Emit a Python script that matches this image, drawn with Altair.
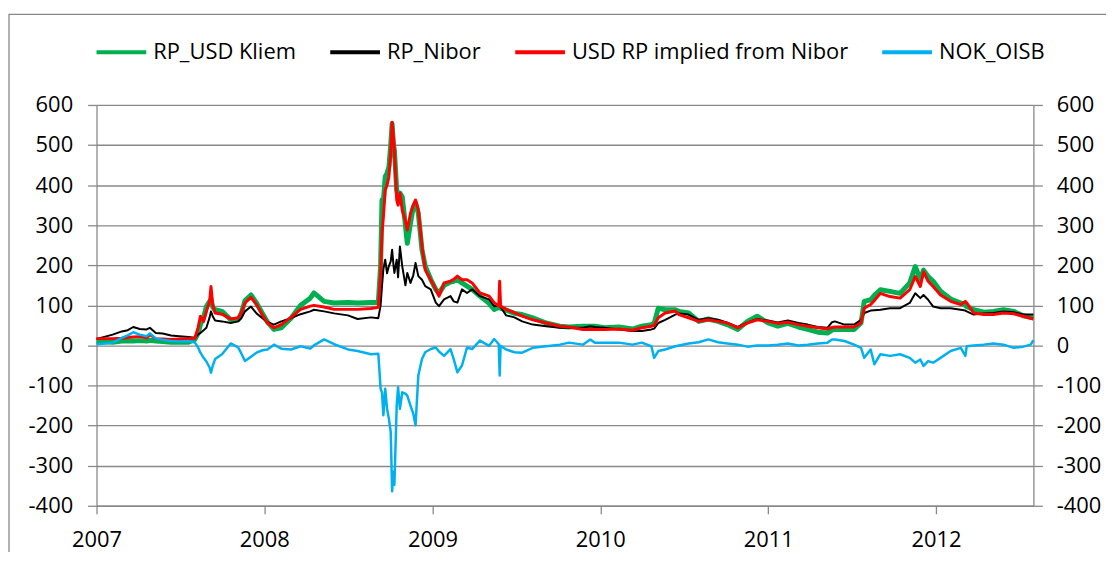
import altair as alt
import pandas as pd

dates = [
    "2007-01-01", "2007-01-20", "2007-02-05", "2007-02-25", "2007-03-10", "2007-03-22", "2007-04-05", "2007-04-20",
    "2007-04-27", "2007-05-10", "2007-05-25", "2007-06-12", "2007-06-30", "2007-07-20", "2007-08-03", "2007-08-10",
    "2007-08-15", "2007-08-22", "2007-08-28", "2007-09-04", "2007-09-07", "2007-09-11", "2007-09-16", "2007-10-01",
    "2007-10-20", "2007-11-05", "2007-11-12", "2007-11-20", "2007-12-03", "2007-12-15", "2007-12-28",
    "2008-01-08", "2008-01-22", "2008-02-07", "2008-02-28", "2008-03-20", "2008-04-10", "2008-04-18", "2008-05-10",
    "2008-06-01", "2008-07-01", "2008-07-22", "2008-08-20", "2008-09-05", "2008-09-10", "2008-09-13", "2008-09-16",
    "2008-09-20", "2008-09-24", "2008-09-28", "2008-10-02", "2008-10-05", "2008-10-08", "2008-10-10", "2008-10-15",
    "2008-10-18", "2008-10-22", "2008-10-27", "2008-11-03", "2008-11-07", "2008-11-14", "2008-11-20", "2008-11-25",
    "2008-12-01", "2008-12-09", "2008-12-16", "2008-12-28",
    "2009-01-08", "2009-01-15", "2009-01-26", "2009-02-09", "2009-02-16", "2009-02-24", "2009-03-06", "2009-03-17",
    "2009-03-28", "2009-04-14", "2009-05-04", "2009-05-15", "2009-05-25", "2009-05-27", "2009-05-29", "2009-06-10",
    "2009-06-28", "2009-07-15", "2009-08-07", "2009-09-05", "2009-10-05", "2009-10-25", "2009-11-24", "2009-12-10",
    "2009-12-20",
    "2010-01-10", "2010-02-10", "2010-03-12", "2010-04-01", "2010-04-22", "2010-04-28", "2010-05-07", "2010-05-22",
    "2010-06-13", "2010-06-21", "2010-07-12", "2010-08-03", "2010-08-24", "2010-09-14", "2010-10-04", "2010-10-27",
    "2010-11-17", "2010-12-08",
    "2011-01-01", "2011-01-22", "2011-02-13", "2011-03-08", "2011-03-28", "2011-04-19", "2011-05-10", "2011-05-20",
    "2011-05-26", "2011-06-16", "2011-07-07", "2011-07-22", "2011-07-29", "2011-08-12", "2011-08-20", "2011-09-02",
    "2011-09-23", "2011-10-15", "2011-11-05", "2011-11-17", "2011-11-28", "2011-12-05", "2011-12-15", "2011-12-26",
    "2012-01-11", "2012-02-02", "2012-02-24", "2012-03-05", "2012-03-08", "2012-03-23", "2012-04-14", "2012-05-05",
    "2012-05-27", "2012-06-18", "2012-07-09", "2012-07-25", "2012-07-31",
]

rp_usd_kliem = [
    10, 9, 8, 11, 11, 11, 12, 11, 13, 11, 10, 8, 8, 8, 15, 30,
    52, 70, 97, 110, 114, 95, 89, 85, 64, 64, 80, 112, 126, 106, 80,
    58, 40, 44, 68, 100, 118, 131, 110, 106, 107, 106, 107, 107, 200, 363, 360,
    421, 430, 445, 500, 553, 500, 487, 388, 370, 380, 371, 300, 255, 305, 345, 355,
    330, 239, 198, 165,
    140, 130, 150, 158, 160, 164, 156, 148, 140, 123, 105, 90, 95, 95, 93, 88,
    80, 77, 69, 56, 48, 46, 48, 48, 48,
    44, 46, 41, 48, 52, 55, 93, 89, 89, 85, 81, 60, 66, 60, 52, 40, 60, 73,
    56, 48, 55, 46, 40, 33, 31, 38, 40, 40, 40, 56, 110, 114, 125, 139,
    135, 130, 156, 197, 164, 188, 172, 160,
    135, 116, 106, 100, 97, 89, 83, 85, 89, 85, 74, 70, 69,
]

rp_nibor = [
    16, 22, 27, 35, 38, 46, 41, 40, 44, 31, 30, 25, 23, 21, 19, 28,
    31, 38, 44, 70, 85, 72, 62, 60, 56, 60, 68, 85, 97, 80, 68,
    58, 52, 60, 68, 78, 85, 89, 85, 80, 75, 66, 70, 68, 100, 148, 190,
    214, 180, 198, 210, 239, 200, 181, 214, 170, 247, 198, 150, 181, 156, 175, 206,
    173, 164, 148, 140,
    107, 98, 115, 123, 110, 107, 140, 131, 140, 123, 115, 98, 100, 98, 96, 75,
    70, 60, 52, 48, 44, 44, 44, 48, 46,
    44, 40, 36, 36, 40, 42, 56, 64, 77, 80, 77, 64, 68, 64, 57, 46, 57, 66,
    62, 57, 62, 56, 52, 46, 44, 58, 60, 52, 52, 64, 81, 87, 88, 89,
    93, 93, 106, 130, 118, 126, 114, 97,
    93, 93, 89, 87, 85, 77, 80, 81, 85, 83, 77, 77, 77,
]

usd_rp_implied = [
    17, 17, 17, 18, 20, 21, 22, 19, 27, 17, 16, 15, 16, 17, 18, 45,
    73, 60, 85, 110, 147, 100, 81, 78, 66, 69, 82, 106, 120, 102, 76,
    56, 44, 52, 70, 90, 98, 100, 96, 90, 90, 90, 92, 95, 181, 280, 320,
    388, 400, 421, 480, 557, 520, 487, 363, 350, 380, 338, 310, 288, 330, 350, 363,
    338, 247, 189, 164,
    140, 123, 156, 160, 165, 173, 164, 164, 156, 131, 123, 107, 98, 160, 98, 90,
    82, 73, 64, 56, 48, 46, 40, 40, 40,
    40, 41, 38, 44, 48, 50, 69, 81, 86, 77, 69, 60, 64, 60, 56, 44, 56, 64,
    60, 55, 58, 52, 48, 44, 41, 45, 46, 46, 46, 56, 93, 102, 112, 130,
    122, 118, 139, 172, 147, 184, 160, 147,
    126, 110, 102, 110, 106, 81, 77, 77, 81, 79, 73, 68, 66,
]

nok_oisb = [
    3, 5, 7, 19, 25, 33, 27, 23, 30, 17, 14, 11, 10, 11, 7, -5,
    -18, -31, -40, -55, -68, -50, -34, -22, 5, -5, -20, -39, -28, -18, -12,
    -10, 2, -8, -10, -2, -8, 0, 15, 3, -10, -14, -22, -21, -108, -117, -174,
    -108, -158, -183, -216, -364, -315, -348, -150, -104, -158, -117, -120, -125, -150, -170, -199,
    -75, -34, -17, -9,
    -5, -15, -26, -9, -34, -67, -50, -5, -9, 12, -1, 16, 3, -75, -1, -10,
    -17, -18, -6, -2, 2, 7, 2, 15, 7,
    7, 7, 2, 7, -2, -31, -14, -10, -2, 0, 5, 8, 15, 8, 5, 2, -3, 0,
    0, 2, 5, 0, 2, 5, 7, 15, 15, 11, 2, -6, -31, -10, -47, -22,
    -26, -22, -31, -43, -35, -51, -39, -43,
    -31, -14, -6, -26, -2, 0, 2, 5, 2, -6, -3, 2, 13,
]

series_names = ["RP_USD Kliem", "RP_Nibor", "USD RP implied from Nibor", "NOK_OISB"]
series_colors = ["#00B050", "#000000", "#FF0000", "#00B0F0"]
series_widths = [5, 2, 3, 2.5]
y_ticks = list(range(-400, 700, 100))
year_ticks = [2007, 2008, 2009, 2010, 2011, 2012]

rows = []
for name, vals in zip(series_names, [rp_usd_kliem, rp_nibor, usd_rp_implied, nok_oisb]):
    for d, v in zip(dates, vals):
        rows.append({"date": d, "value": v, "series": name})
df = pd.DataFrame(rows)

FONT = "Open Sans"
GRID = "#898989"

x_scale = alt.Scale(
    type="utc",
    domain=[alt.DateTime(year=2007, month=1, date=1, utc=True),
            alt.DateTime(year=2012, month=7, date=31, utc=True)],
)
x_axis = alt.Axis(
    values=[alt.DateTime(year=y, month=1, date=1, utc=True) for y in year_ticks],
    format="%Y", formatType="utc", title=None, grid=False,
    tickSize=8, labelPadding=16, labelFlush=False,
)
y_scale = alt.Scale(domain=[-400, 600], nice=False, zero=False)
y_left = alt.Axis(values=y_ticks, title=None, grid=True, orient="left",
                  tickSize=9, labelPadding=15, labelExpr="'' + datum.value")
y_right = alt.Axis(values=y_ticks, title=None, grid=False, orient="right",
                   tickSize=9, labelPadding=14, labelExpr="'' + datum.value")

legend = alt.Legend(
    title=None, orient="none", legendX=-2, legendY=-80, direction="horizontal",
    symbolType="stroke", symbolSize=2500, symbolStrokeWidth=4,
    labelFont=FONT, labelFontSize=22, labelColor="black", labelLimit=500,
    columnPadding=26, labelOffset=5, columns=4,
)
color = alt.Color("series:N", scale=alt.Scale(domain=series_names, range=series_colors),
                  legend=legend)

layers = []
for i, name in enumerate(series_names):
    if i == 0:
        ax = y_left
    elif i == 3:
        ax = y_right
    else:
        ax = None
    layer = (
        alt.Chart(df)
        .transform_filter(alt.datum.series == name)
        .mark_line(strokeWidth=series_widths[i], strokeJoin="round")
        .encode(
            x=alt.X("date:T", scale=x_scale, axis=x_axis),
            y=alt.Y("value:Q", scale=y_scale, axis=ax),
            color=color,
        )
    )
    layers.append(layer)

frame = alt.Chart(pd.DataFrame({"a": [0]})).mark_rect(
    filled=False, stroke="#888888", strokeWidth=1.3
).encode(
    x=alt.value(-88), x2=alt.value(1200), y=alt.value(-91), y2=alt.value(700)
)

chart = (
    alt.layer(*layers, frame)
    .resolve_scale(y="independent")
    .properties(
        width=942, height=403,
        padding={"left": 89, "top": 96, "right": 73, "bottom": 45},
        autosize=alt.AutoSizeParams(type="none"),
    )
    .configure_view(stroke=None)
    .configure_axis(
        gridColor=GRID, gridWidth=1.3, domainColor=GRID, domainWidth=1.3,
        tickColor=GRID, tickWidth=1.3, labelFont=FONT, labelFontSize=22,
        labelColor="black",
    )
)

chart.save("out.html", embed_options={"renderer": "svg", "actions": False})
